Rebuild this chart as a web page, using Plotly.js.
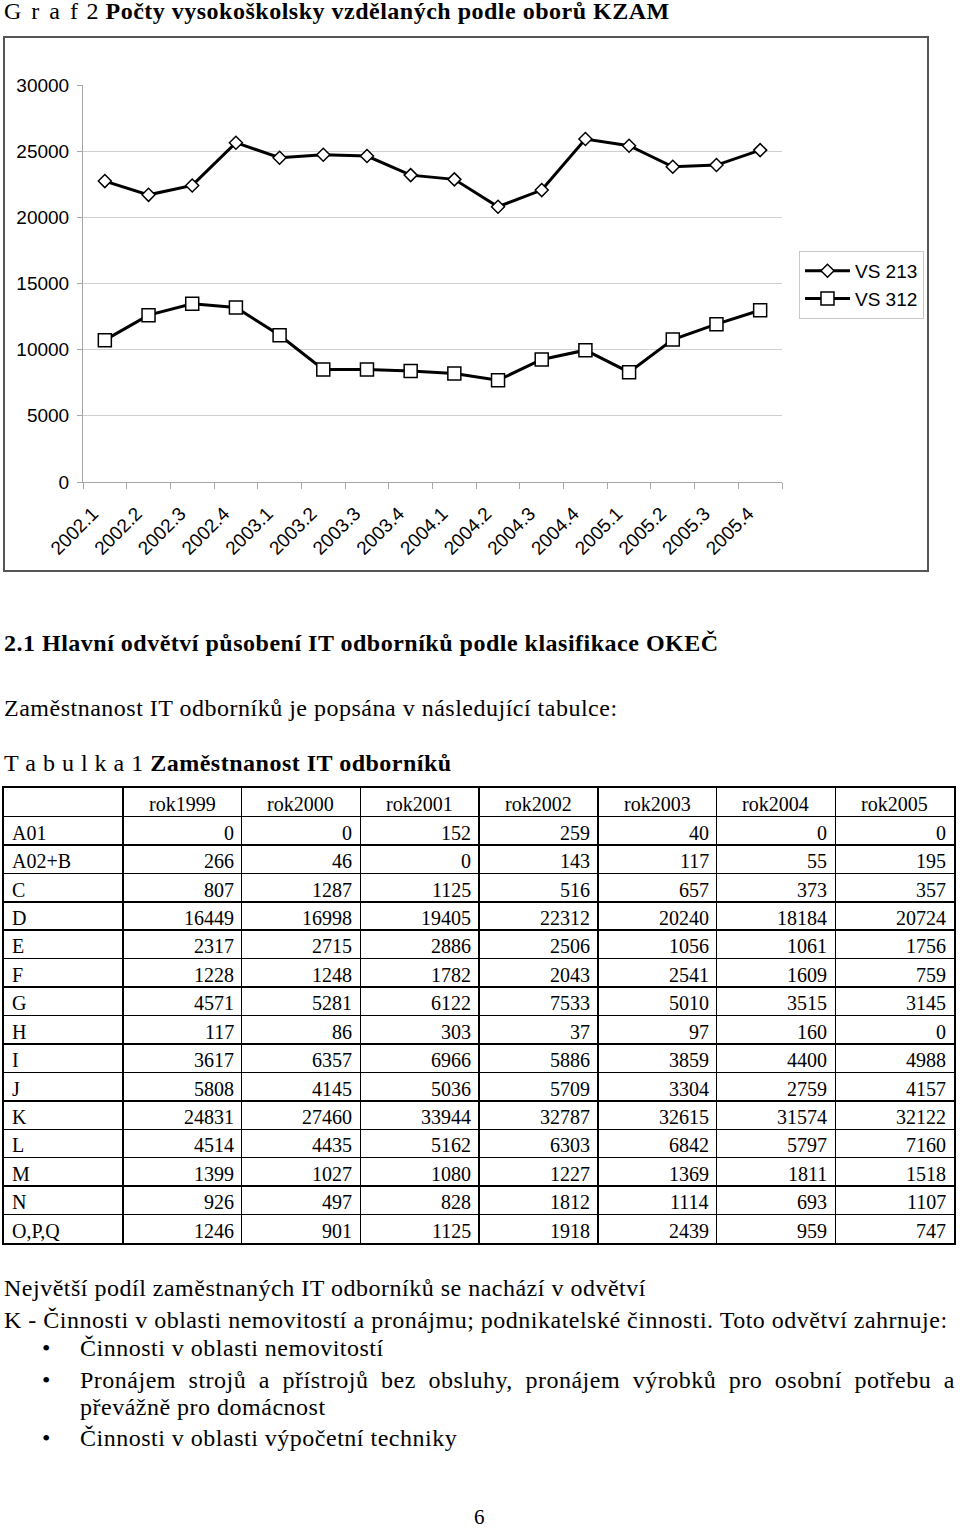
<!DOCTYPE html>
<html>
<head>
<meta charset="utf-8">
<script src="https://cdn.plot.ly/plotly-3.0.1.min.js"></script>
<style>
html,body{margin:0;padding:0;background:#fff;}
body{width:960px;height:1533px;position:relative;overflow:hidden;font-family:"Liberation Serif","Times New Roman",serif;color:#000;}
.t{position:absolute;white-space:nowrap;font-size:24px;line-height:30px;letter-spacing:0.5px;}
.b{font-weight:bold;}
</style>
</head>
<body>
<div class="t" style="left:4px;top:-4px;"><span style="letter-spacing:2px;">G r a f</span> 2 <span class="b">Počty vysokoškolsky vzdělaných podle oborů KZAM</span></div>
<div id="chart" style="position:absolute;left:5px;top:38px;width:950px;height:532px;"></div>
<div style="position:absolute;left:3px;top:36px;width:922px;height:532px;border:2px solid #555;"></div>

<div class="t b" style="left:4px;top:628px;">2.1 Hlavní odvětví působení IT odborníků podle klasifikace OKEČ</div>
<div class="t" style="left:4px;top:693px;">Zaměstnanost IT odborníků je popsána v následující tabulce:</div>
<div class="t" style="left:4px;top:748px;"><span>T a b u l k a 1</span> <span class="b">Zaměstnanost IT odborníků</span></div>

<div id="table" style="position:absolute;left:1px;top:785px;width:956px;height:461px;"></div>

<div class="t" style="left:4px;top:1273px;">Největší podíl zaměstnaných IT odborníků se nachází v odvětví</div>
<div class="t" style="left:4px;top:1305px;">K - Činnosti v oblasti nemovitostí a pronájmu; podnikatelské činnosti. Toto odvětví zahrnuje:</div>
<div class="t" style="left:42px;top:1333px;">•</div>
<div class="t" style="left:80px;top:1333px;">Činnosti v oblasti nemovitostí</div>
<div class="t" style="left:42px;top:1365px;">•</div>
<div class="t" style="left:80px;top:1365px;width:875px;text-align:justify;text-align-last:justify;white-space:normal;">Pronájem strojů a přístrojů bez obsluhy, pronájem výrobků pro osobní potřebu a</div>
<div class="t" style="left:80px;top:1392px;">převážně pro domácnost</div>
<div class="t" style="left:42px;top:1423px;">•</div>
<div class="t" style="left:80px;top:1423px;">Činnosti v oblasti výpočetní techniky</div>
<div class="t" style="left:474px;top:1510px;font-size:21px;line-height:14px;">6</div>

<script>
// ---- Chart data ----
const quarters = ['2002.1','2002.2','2002.3','2002.4','2003.1','2003.2','2003.3','2003.4',
                  '2004.1','2004.2','2004.3','2004.4','2005.1','2005.2','2005.3','2005.4'];
const vs213 = [22740,21700,22410,25640,24500,24730,24630,23190,22870,20800,22060,25920,25410,23820,23950,25080];
const vs312 = [10720,12610,13470,13190,11090,8500,8500,8390,8200,7690,9260,9960,8300,10770,11930,12980];
const seriesNames = ['VS 213','VS 312'];

// ---- Table data ----
const tableRows = ['A01','A02+B','C','D','E','F','G','H','I','J','K','L','M','N','O,P,Q'];
const tableYears = ['rok1999','rok2000','rok2001','rok2002','rok2003','rok2004','rok2005'];
const rok1999 = [0,266,807,16449,2317,1228,4571,117,3617,5808,24831,4514,1399,926,1246];
const rok2000 = [0,46,1287,16998,2715,1248,5281,86,6357,4145,27460,4435,1027,497,901];
const rok2001 = [152,0,1125,19405,2886,1782,6122,303,6966,5036,33944,5162,1080,828,1125];
const rok2002 = [259,143,516,22312,2506,2043,7533,37,5886,5709,32787,6303,1227,1812,1918];
const rok2003 = [40,117,657,20240,1056,2541,5010,97,3859,3304,32615,6842,1369,1114,2439];
const rok2004 = [0,55,373,18184,1061,1609,3515,160,4400,2759,31574,5797,1811,693,959];
const rok2005 = [0,195,357,20724,1756,759,3145,0,4988,4157,32122,7160,1518,1107,747];
const tableCols = [rok1999,rok2000,rok2001,rok2002,rok2003,rok2004,rok2005];

const axisGrey = '#a6a6a6';

Plotly.newPlot('chart', [
  {x: quarters, y: vs213, name: seriesNames[0], type: 'scatter', mode: 'lines+markers',
   line: {color: '#000', width: 3},
   marker: {symbol: 'diamond', size: 10, color: '#fff', line: {color: '#000', width: 1.5}}},
  {x: quarters, y: vs312, name: seriesNames[1], type: 'scatter', mode: 'lines+markers',
   line: {color: '#000', width: 3},
   marker: {symbol: 'square', size: 13, color: '#fff', line: {color: '#000', width: 1.5}}}
], {
  width: 950, height: 532,
  margin: {l: 78, r: 173, t: 47, b: 88},
  paper_bgcolor: 'rgba(0,0,0,0)', plot_bgcolor: '#fff',
  font: {family: '"Liberation Sans", Arial, sans-serif', size: 19, color: '#000'},
  xaxis: {type: 'category', range: [-0.5, 15.5], showline: true, linecolor: axisGrey, linewidth: 1,
          ticks: 'outside', tickson: 'boundaries', ticklen: 6, tickcolor: axisGrey, tickangle: -45,
          showgrid: false, zeroline: false, ticklabelstandoff: 12, ticklabelshift: -12},
  yaxis: {range: [0, 30000], dtick: 5000, tick0: 0, tickformat: 'd', showline: true, linecolor: axisGrey,
          linewidth: 1, ticks: 'outside', ticklen: 5, tickcolor: axisGrey, gridcolor: '#d0d0d0',
          gridwidth: 1, zeroline: false, ticklabelstandoff: 4},
  showlegend: true,
  legend: {x: 1.0243, y: 0.582, xanchor: 'left', yanchor: 'top', bordercolor: '#c8c8c8',
           borderwidth: 1, bgcolor: '#fff', font: {size: 19}, itemwidth: 45}
}, {staticPlot: true, displayModeBar: false});

// ---- Table as a grid ----
const nCols = tableYears.length + 1;
const nRows = tableRows.length + 1;
const ann = [];
const base = {showarrow: false, yanchor: 'middle', yshift: -2};
tableYears.forEach((yr, j) => ann.push(Object.assign({}, base, {x: j + 1.5, y: 0.5, text: yr, xanchor: 'center'})));
tableRows.forEach((r, i) => ann.push(Object.assign({}, base, {x: 0, y: i + 1.5, text: r, xanchor: 'left', xshift: 6})));
tableCols.forEach((col, j) => col.forEach((v, i) =>
  ann.push(Object.assign({}, base, {x: j + 2, y: i + 1.5, text: String(v), xanchor: 'right', xshift: -6}))));

const xGrid = Array.from({length: nCols - 1}, (_, k) => k + 1);
const yGrid = Array.from({length: nRows - 1}, (_, k) => k + 1);

Plotly.newPlot('table', [{x: [], y: [], type: 'scatter', mode: 'markers', showlegend: false, hoverinfo: 'skip'}], {
  width: 956, height: 461,
  margin: {l: 3, r: 3, t: 3, b: 3},
  paper_bgcolor: '#fff', plot_bgcolor: '#fff',
  font: {family: '"Liberation Serif", "Times New Roman", serif', size: 20, color: '#000'},
  showlegend: false,
  xaxis: {range: [0, nCols], tickvals: xGrid, showticklabels: false, ticks: '', showgrid: true,
          gridcolor: '#000', gridwidth: 1.5, zeroline: false, showline: true, mirror: true,
          linecolor: '#000', linewidth: 2},
  yaxis: {range: [nRows, 0], tickvals: yGrid, showticklabels: false, ticks: '', showgrid: true,
          gridcolor: '#000', gridwidth: 1.5, zeroline: false, showline: true, mirror: true,
          linecolor: '#000', linewidth: 2},
  annotations: ann
}, {staticPlot: true, displayModeBar: false});
</script>
</body>
</html>
